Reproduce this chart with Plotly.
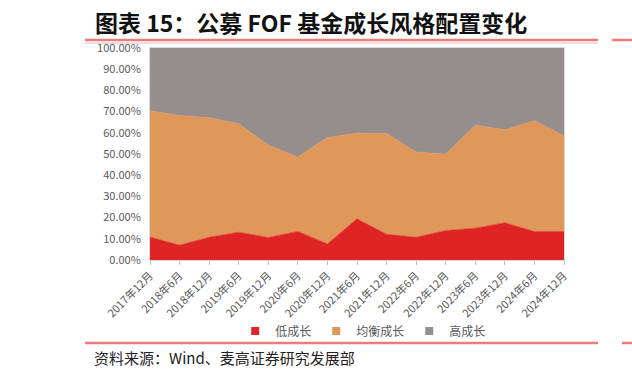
import plotly.graph_objects as go

categories = ["2017年12月", "2018年6月", "2018年12月", "2019年6月", "2019年12月",
              "2020年6月", "2020年12月", "2021年6月", "2021年12月", "2022年6月",
              "2022年12月", "2023年6月", "2023年12月", "2024年6月", "2024年12月"]
low_growth = [10.8, 7.0, 10.7, 13.1, 10.6, 13.5, 7.6, 19.4, 12.1, 10.7, 13.9, 15.0, 17.6, 13.4, 13.4]
balanced_growth = [59.6, 61.2, 56.4, 51.2, 43.6, 35.0, 50.2, 40.4, 47.6, 40.3, 36.0, 48.6, 43.8, 52.3, 45.2]
high_growth = [29.6, 31.8, 32.9, 35.7, 45.8, 51.5, 42.2, 40.2, 40.3, 49.0, 50.1, 36.4, 38.6, 34.3, 41.4]
series_names = ["低成长", "均衡成长", "高成长"]
colors = ["#DF2426", "#DF985A", "#968E8C"]

W, H = 632, 376
L, R, T, B = 150, 564, 48, 260


def px(x):
    return (x - L) / (R - L)


def py(y):
    return (B - y) / (B - T)


fig = go.Figure()
for name, vals, c in zip(series_names, [low_growth, balanced_growth, high_growth], colors):
    fig.add_trace(go.Scatter(
        x=categories, y=[v / 100 for v in vals], name=name, mode="lines",
        stackgroup="one", line=dict(width=0.6, color=c), fillcolor=c,
        showlegend=False, hoverinfo="skip"))
for name, c in zip(series_names, colors):
    fig.add_trace(go.Scatter(
        x=[None], y=[None], name=name, mode="markers",
        marker=dict(symbol="square", size=8, color=c), showlegend=True))

font_cjk = "Noto Sans CJK SC"
shapes = [
    dict(type="line", xref="paper", yref="paper", x0=px(85), x1=px(598), y0=py(40), y1=py(40),
         line=dict(color="#EC7B7E", width=2.5)),
    dict(type="line", xref="paper", yref="paper", x0=px(85), x1=px(598), y0=py(43), y1=py(43),
         line=dict(color="#F5B5B6", width=1)),
    dict(type="line", xref="paper", yref="paper", x0=px(612), x1=px(640), y0=py(40), y1=py(40),
         line=dict(color="#EC7B7E", width=2.5)),
    dict(type="line", xref="paper", yref="paper", x0=px(85), x1=px(598), y0=py(343), y1=py(343),
         line=dict(color="#EC7B7E", width=2.5)),
    dict(type="line", xref="paper", yref="paper", x0=px(622), x1=px(640), y0=py(343), y1=py(343),
         line=dict(color="#EC7B7E", width=2.5)),
]
annotations = [
    dict(text="<b>图表 15：公募 FOF 基金成长风格配置变化</b>", xref="paper", yref="paper",
         x=px(93), y=py(22), xanchor="left", yanchor="middle", showarrow=False,
         font=dict(family=font_cjk, size=23, color="#111111")),
    dict(text="资料来源：Wind、麦高证券研究发展部", xref="paper", yref="paper",
         x=px(92), y=py(357), xanchor="left", yanchor="middle", showarrow=False,
         font=dict(family=font_cjk, size=15, color="#222222")),
]

fig.update_layout(
    width=W, height=H,
    margin=dict(l=L, r=W - R, t=T, b=H - B, pad=0),
    paper_bgcolor="white", plot_bgcolor="white",
    font=dict(family=font_cjk, color="#595959", size=11),
    shapes=shapes, annotations=annotations,
    legend=dict(orientation="h", x=0.515, xanchor="center", y=py(331), yanchor="middle",
                traceorder="normal",
                font=dict(size=12, color="#595959"), itemwidth=30, tracegroupgap=0,
                bgcolor="rgba(0,0,0,0)"),
    xaxis=dict(type="category", categoryorder="array", categoryarray=categories,
               range=[0, len(categories) - 1], tickangle=-45, ticks="outside", ticklen=4,
               tickcolor="#BFBFBF", showline=True, linecolor="#D9D9D9", mirror=True,
               showgrid=False, zeroline=False, tickfont=dict(size=11, color="#595959")),
    yaxis=dict(range=[0, 1], dtick=0.1, tickformat=".2%", showgrid=False, zeroline=False,
               showline=True, linecolor="#D9D9D9", mirror=True, ticks="",
               ticklabelstandoff=6,
               tickfont=dict(size=11, color="#595959")),
)

fig.write_html("out.html", config={"displayModeBar": False},
               post_script="document.body.style.margin='0';")
